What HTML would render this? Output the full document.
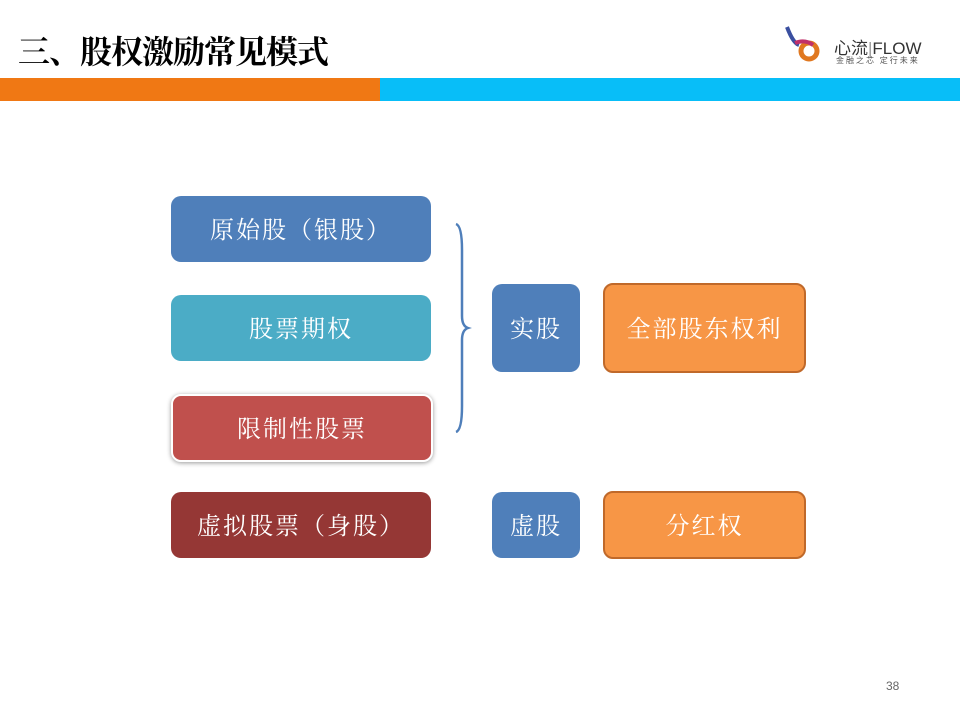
<!DOCTYPE html>
<html><head><meta charset="utf-8"><style>
body{margin:0;width:960px;height:720px;background:#fff;position:relative;overflow:hidden;font-family:"Liberation Serif","Noto Serif CJK SC",serif}
.b{position:absolute;color:#fff;display:flex;align-items:center;justify-content:center;font-size:24px;border-radius:10px;letter-spacing:2px;padding-bottom:3px;box-sizing:border-box}
</style></head><body>
<div style="position:absolute;left:18px;top:27px;font-size:32px;font-weight:bold;color:#000;font-family:'Noto Serif CJK SC',serif;letter-spacing:-1px">三、股权激励常见模式</div>
<div style="position:absolute;left:783px;top:25px;width:40px;height:36px">
<svg width="40" height="38"><path d="M4 2 Q10 18 16 20" stroke="#3a4fa0" stroke-width="4" fill="none"/><circle cx="26" cy="26" r="8" fill="none" stroke="#e07820" stroke-width="5"/><path d="M12 18 Q22 14 30 20" stroke="#c0306a" stroke-width="4" fill="none"/></svg></div>
<div style="position:absolute;left:834px;top:34px;font-size:17px;color:#333;font-family:'Liberation Sans','Noto Sans CJK SC',sans-serif">心流<span style="color:#999">|</span>FLOW</div>
<div style="position:absolute;left:836px;top:55px;font-size:8px;color:#555;letter-spacing:2px;font-family:'Noto Sans CJK SC',sans-serif">金融之芯 定行未来</div>
<div style="position:absolute;left:0;top:78px;width:380px;height:23px;background:#f07814"></div>
<div style="position:absolute;left:380px;top:78px;width:580px;height:23px;background:#08bef8"></div>
<div class="b" style="left:171px;top:196px;width:260px;height:66px;background:#4f7fba">原始股（银股）</div>
<div class="b" style="left:171px;top:295px;width:260px;height:66px;background:#4bacc6">股票期权</div>
<div class="b" style="left:171px;top:394px;width:262px;height:68px;background:#c0504d;border:2px solid #fff;box-shadow:0 1px 5px rgba(0,0,0,.4)">限制性股票</div>
<div class="b" style="left:171px;top:492px;width:260px;height:66px;background:#953735">虚拟股票（身股）</div>
<div class="b" style="left:492px;top:284px;width:88px;height:88px;background:#4f7fba">实股</div>
<div class="b" style="left:492px;top:492px;width:88px;height:66px;background:#4f7fba">虚股</div>
<div class="b" style="left:603px;top:283px;width:203px;height:90px;background:#f79646;border:2px solid #c0692a">全部股东权利</div>
<div class="b" style="left:603px;top:491px;width:203px;height:68px;background:#f79646;border:2px solid #c0692a">分红权</div>
<svg style="position:absolute;left:450px;top:220px" width="24" height="216"><path d="M6 4 Q12 6 12 30 L12 96 Q12 106 18 108 Q12 110 12 120 L12 186 Q12 210 6 212" stroke="#4f7fba" stroke-width="2.5" fill="none"/></svg>
<div style="position:absolute;left:886px;top:679px;font-size:12px;color:#666;font-family:'Liberation Sans',sans-serif">38</div>
</body></html>
